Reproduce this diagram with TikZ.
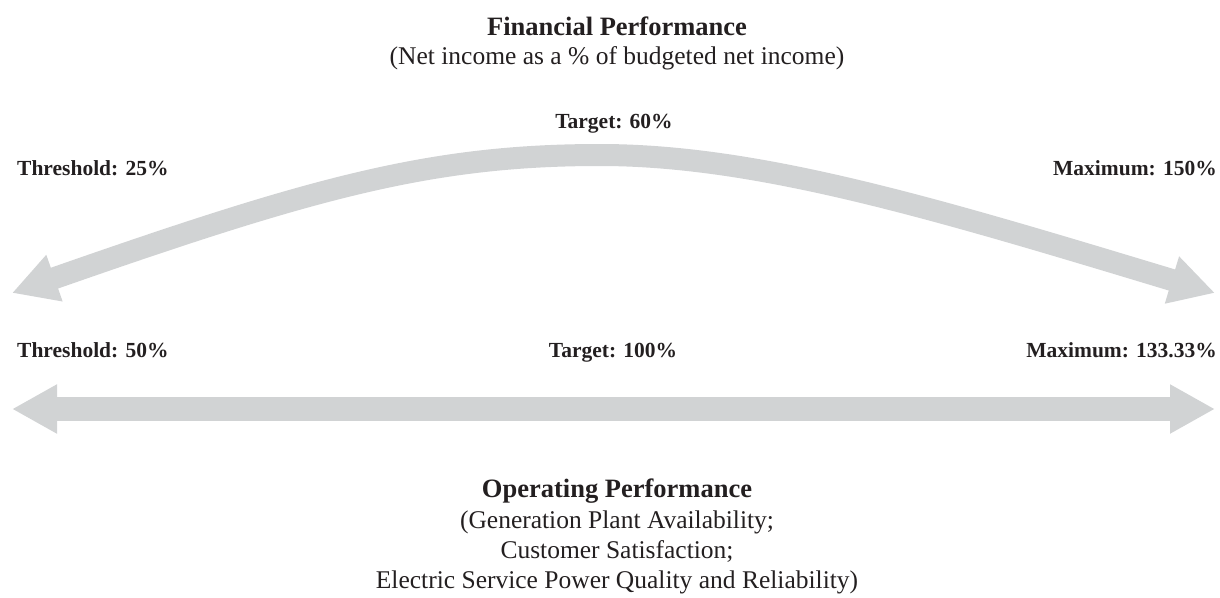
\documentclass[tikz,border=0pt]{standalone}
\usepackage{fontspec}
\setmainfont{Liberation Serif}
\usetikzlibrary{arrows.meta}
\definecolor{bandgray}{RGB}{209,211,212}
\definecolor{inkdark}{RGB}{35,31,32}
\begin{document}
\begin{tikzpicture}[x=1pt,y=-1pt,
  heading/.style={anchor=base,inner sep=0pt,text=inkdark,font=\bfseries\fontsize{26.5}{30}\selectfont},
  subline/.style={anchor=base,inner sep=0pt,text=inkdark,font=\fontsize{25.5}{30}\selectfont},
  tag/.style={inner sep=0pt,text=inkdark,font=\bfseries\fontsize{21.5}{26}\selectfont},
  band/.style={draw=bandgray,line width=#1,
    arrows={Triangle[length=45pt,width=46pt]-Triangle[length=45pt,width=46pt]}}]
\useasboundingbox (0,0) rectangle (1220,597);

% end points of the two double-headed bands
\coordinate (fin-low) at (12,293);
\coordinate (fin-top) at (600,155);
\coordinate (fin-high) at (1215,293);
\coordinate (op-low) at (12,409);
\coordinate (op-high) at (1215,409);

% curved band: financial performance range
\draw[band=22pt] (fin-low) .. controls (312,188) and (430,155) .. (fin-top)
  .. controls (760,155) and (940,210) .. (fin-high);

% straight band: operating performance range
\draw[band=24pt] (op-low) -- (op-high);

% headings
\node[heading] (fin-title) at (617,35) {Financial Performance};
\node[subline] (fin-sub) at (617,64) {(Net income as a \% of budgeted net income)};

\node[heading] (op-title) at (617,497) {Operating Performance};
\node[subline] (op-sub1) at (617,528) {(Generation Plant Availability;};
\node[subline] (op-sub2) at (617,558) {Customer Satisfaction;};
\node[subline] (op-sub3) at (617,588) {Electric Service Power Quality and Reliability)};

% financial levels
\node[tag,anchor=base west] (fin-threshold) at (17,175) {Threshold: 25\%};
\node[tag,anchor=base] (fin-target) at (614,128) {Target: 60\%};
\node[tag,anchor=base east] (fin-max) at (1217,175) {Maximum: 150\%};

% operating levels
\node[tag,anchor=base west] (op-threshold) at (17,357) {Threshold: 50\%};
\node[tag,anchor=base] (op-target) at (613,357) {Target: 100\%};
\node[tag,anchor=base east] (op-max) at (1217,357) {Maximum: 133.33\%};
\end{tikzpicture}
\end{document}
